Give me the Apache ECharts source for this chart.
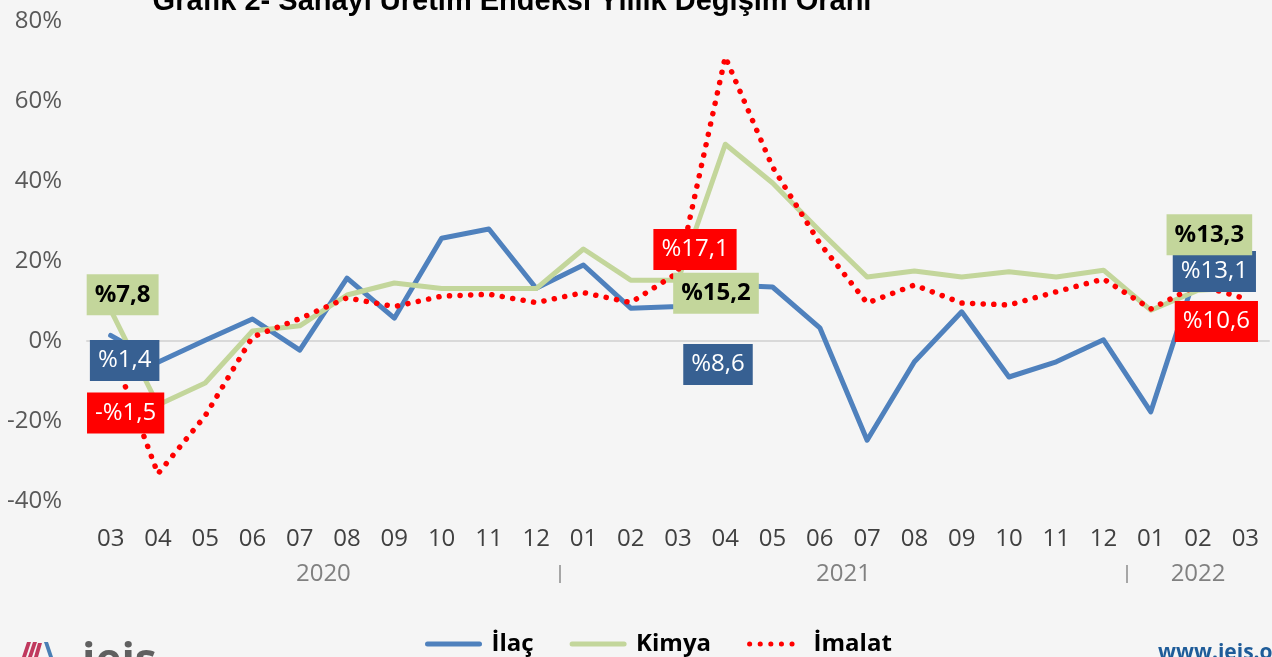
<!DOCTYPE html>
<html><head><meta charset="utf-8">
<script src="https://cdn.jsdelivr.net/npm/echarts@6/dist/echarts.min.js"></script>
<style>html,body{margin:0;padding:0;background:#f5f5f5}#c{width:1272px;height:657px}</style>
</head><body><div id="c"></div>
<script>
// ---- data ----
const months = ['03','04','05','06','07','08','09','10','11','12','01','02','03','04','05','06','07','08','09','10','11','12','01','02','03'];
const years = ['2020','2021','2022'];
const yearFirst = [0, 10, 22];
const yearLast = [9, 21, 24];
const ilac   = [1.4,-5.3,0.2,5.5,-2.3,15.7,5.7,25.7,28.0,13.2,19.0,8.2,8.6,14.0,13.5,3.3,-24.8,-5.2,7.3,-9.0,-5.2,0.3,-17.7,18.5,13.1];
const kimya  = [7.8,-16.0,-10.5,2.5,3.8,11.5,14.5,13.1,13.1,13.1,23.0,15.2,15.2,49.2,39.5,27.5,16.0,17.5,16.0,17.3,16.0,17.7,7.7,12.7,13.3];
const imalat = [-1.5,-33.2,-18.7,1.0,5.6,10.8,8.6,11.2,11.7,9.6,12.1,9.6,17.1,71.0,43.5,24.4,9.5,14.0,9.5,9.0,12.3,15.5,8.0,14.0,10.6];
const seriesNames = ['İlaç','Kimya','İmalat'];
const labelIdx = [0, 12, 24];
const yTicks = {min:-40, max:80, step:20};
const titleText = 'Grafik 2- Sanayi Üretim Endeksi Yıllık Değişim Oranı';

// ---- helpers ----
const FONT = '"Open Sans", "DejaVu Sans", sans-serif';
function fmt(v){ return (v<0?'-':'') + '%' + Math.abs(v).toFixed(1).replace('.', ','); }
function marks(arr, offsets, bg, fg, weight){
  return {
    symbol:'rect', symbolSize:1, silent:true, animation:false, z:20,
    itemStyle:{color:'rgba(0,0,0,0)'},
    label:{show:true, position:'inside', fontFamily:FONT, fontSize:24, fontWeight:weight,
      color:fg, backgroundColor:bg, padding:[7,8,7,8], lineHeight:27},
    data: labelIdx.map((i,k)=>({coord:[i, arr[i]], value:arr[i],
      label:{offset:offsets[k], formatter: fmt(arr[i])}}))
  };
}
const halfSlots = Array.from({length: 2*months.length+1}, () => '');
years.forEach((y,i)=>{ halfSlots[yearFirst[i]+yearLast[i]+1] = y; });
const sepSlots = yearFirst.slice(1).map(f => 2*f);

const chart = echarts.init(document.getElementById('c'), null, {renderer:'canvas'});
chart.setOption({
  backgroundColor:'#f5f5f5',
  animation:false,
  grid:{left:87, width:1186, top:21, bottom:156, containLabel:false},
  xAxis:[
    {type:'category', data:months, boundaryGap:true,
      axisLine:{show:true, onZero:true, lineStyle:{color:'#d9d9d9', width:2}},
      axisTick:{show:false}, axisLabel:{show:false}, splitLine:{show:false}},
    {type:'category', data:months, boundaryGap:true, position:'bottom',
      axisLine:{show:false, onZero:false}, axisTick:{show:false}, splitLine:{show:false},
      axisLabel:{interval:0, margin:26, fontFamily:FONT, fontSize:24, color:'#404040'}},
    {type:'category', data:halfSlots, boundaryGap:false, position:'bottom', offset:64,
      axisLine:{show:false, onZero:false}, splitLine:{show:false},
      axisTick:{show:true, interval:(i)=>sepSlots.includes(i), length:18, lineStyle:{color:'#8c8c8c', width:1.5}},
      axisLabel:{interval:0, margin:-3, fontFamily:FONT, fontSize:24, color:'#808080'}}
  ],
  yAxis:{type:'value', min:yTicks.min, max:yTicks.max, interval:yTicks.step,
    axisLine:{show:false}, axisTick:{show:false}, splitLine:{show:false},
    axisLabel:{formatter:'{value}%', margin:25, fontFamily:FONT, fontSize:24, color:'#595959'}},
  legend:{left:420, top:627, itemWidth:52, itemHeight:14, itemGap:36, data:seriesNames,
    lineStyle:{width:5}, itemStyle:{opacity:0},
    textStyle:{fontFamily:FONT, fontSize:24, fontWeight:'bold', color:'#000', padding:[0,0,0,7]}},
  series:[
    {name:seriesNames[0], type:'line', data:ilac, symbol:'none', z:2,
      lineStyle:{color:'#4f81bd', width:5, cap:'round', join:'round'}, itemStyle:{color:'#4f81bd'},
      markPoint: marks(ilac, [[14,25],[40,58],[-31,-17]], '#376092', '#fff', 'normal')},
    {name:seriesNames[1], type:'line', data:kimya, symbol:'none', z:3,
      lineStyle:{color:'#c3d69b', width:5, cap:'round', join:'round'}, itemStyle:{color:'#c3d69b'},
      markPoint: marks(kimya, [[12,-15],[38,13],[-36,-53]], '#c3d69b', '#000', 'bold')},
    {name:seriesNames[2], type:'line', data:imalat, symbol:'none', z:4,
      lineStyle:{color:'#ff0000', width:5.5, type:[0.1,10.5], cap:'round'}, itemStyle:{color:'#ff0000'},
      markPoint: marks(imalat, [[15,66],[17,-23],[-29,23]], '#ff0000', '#fff', 'normal')}
  ],
  graphic:[
    {type:'text', x:512, y:2, silent:true,
      style:{text:titleText, font:'bold 29px "Liberation Sans", Arial, sans-serif', fill:'#000', textAlign:'center', textVerticalAlign:'middle'}},
    {type:'polygon', silent:true, shape:{points:[[22,657],[26,657],[31,642],[27,642]]}, style:{fill:'#c0395e'}},
    {type:'polygon', silent:true, shape:{points:[[28,657],[32,657],[37,642],[33,642]]}, style:{fill:'#c0395e'}},
    {type:'polygon', silent:true, shape:{points:[[34,657],[38,657],[42,643],[38,643]]}, style:{fill:'#c0395e'}},
    {type:'polygon', silent:true, shape:{points:[[44,642],[48,642],[53,657],[49,657]]}, style:{fill:'#4a7fb5'}},
    {type:'text', x:82, y:662, silent:true,
      style:{text:'ieis', font:'bold 44px "Open Sans", sans-serif', fill:'#606060', textVerticalAlign:'middle'}},
    {type:'text', x:1158, y:653, silent:true,
      style:{text:'www.ieis.org.tr', font:'bold 21px "Open Sans", sans-serif', fill:'#1f5c99', textVerticalAlign:'middle'}}
  ]
});
</script></body></html>
